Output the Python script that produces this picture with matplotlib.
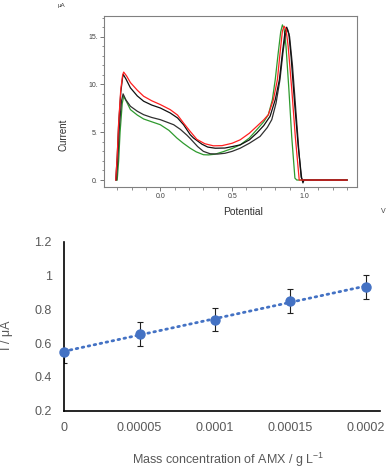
import numpy as np
import matplotlib
matplotlib.use("Agg")
import matplotlib.pyplot as plt
from matplotlib.ticker import MultipleLocator

plt.rcParams['font.family'] = ['Liberation Sans', 'DejaVu Sans']
plt.rcParams['mathtext.fontset'] = 'custom'
plt.rcParams['mathtext.rm'] = 'Liberation Sans'

# ---- voltammograms (potential / V, current / uA)
red_v = [-0.31, -0.30, -0.29, -0.275, -0.262, -0.255, -0.235, -0.208, -0.16, -0.116, -0.06, 0.0,
         0.069, 0.12, 0.162, 0.208, 0.255, 0.31, 0.37, 0.43, 0.50, 0.556, 0.62, 0.671, 0.72, 0.752,
         0.787, 0.815, 0.835, 0.85, 0.862, 0.875, 0.89, 0.915, 0.94, 0.967, 1.0, 1.3]
red_i = [0, 2.5, 6.0, 9.5, 11.0, 11.3, 10.9, 10.2, 9.4, 8.77, 8.3, 7.9,
         7.37, 6.8, 5.96, 5.09, 4.25, 3.8, 3.58, 3.6, 3.85, 4.21, 4.9, 5.61, 6.3, 6.84,
         8.4, 10.5, 13.5, 15.6, 16.1, 15.8, 14.0, 9.5, 4.5, 0, 0, 0]

blk1_v = [-0.31, -0.30, -0.29, -0.275, -0.262, -0.258, -0.24, -0.208, -0.16, -0.116, -0.06, 0.0,
          0.069, 0.12, 0.162, 0.208, 0.231, 0.29, 0.33, 0.382, 0.45, 0.50, 0.556, 0.62, 0.671,
          0.72, 0.764, 0.80, 0.829, 0.85, 0.868, 0.88, 0.895, 0.91, 0.935, 0.96, 0.984, 0.993, 1.0, 1.3]
blk1_i = [0, 2.4, 5.8, 9.2, 10.8, 11.05, 10.6, 9.65, 8.8, 8.25, 7.85, 7.54,
          7.02, 6.5, 5.79, 4.75, 4.4, 3.75, 3.45, 3.33, 3.35, 3.5, 3.68, 4.2, 4.91,
          5.7, 6.67, 8.4, 10.5, 13.3, 15.5, 16.0, 15.3, 13.0, 8.0, 3.5, 0.2, -0.3, 0, 0]

blk2_v = [-0.305, -0.295, -0.285, -0.27, -0.259, -0.24, -0.208, -0.16, -0.116, -0.06, 0.0, 0.093,
          0.14, 0.185, 0.208, 0.26, 0.30, 0.347, 0.40, 0.45, 0.50, 0.556, 0.62, 0.694, 0.745,
          0.776, 0.806, 0.833, 0.855, 0.872, 0.885, 0.90, 0.92, 0.945, 0.965, 0.98, 0.99, 1.3]
blk2_i = [0, 2.3, 5.5, 8.3, 9.02, 8.4, 7.72, 7.2, 6.84, 6.55, 6.32, 5.79,
          5.3, 4.7, 4.35, 3.5, 3.0, 2.75, 2.72, 2.8, 3.0, 3.33, 3.85, 4.56, 5.5,
          6.32, 8.07, 10.5, 13.5, 15.3, 15.8, 15.0, 12.0, 7.0, 3.0, 0.3, 0, 0]

grn_v = [-0.30, -0.29, -0.28, -0.265, -0.255, -0.235, -0.208, -0.16, -0.116, -0.06, 0.0, 0.06,
         0.116, 0.16, 0.208, 0.25, 0.30, 0.335, 0.38, 0.44, 0.50, 0.556, 0.62, 0.671, 0.72,
         0.752, 0.78, 0.80, 0.82, 0.838, 0.85, 0.862, 0.875, 0.895, 0.915, 0.937, 0.95, 1.3]
grn_i = [0, 2.0, 5.0, 8.0, 8.77, 8.2, 7.37, 6.8, 6.39, 6.1, 5.79, 5.2,
         4.39, 3.85, 3.33, 2.95, 2.65, 2.63, 2.7, 2.98, 3.3, 3.68, 4.4, 5.26, 6.1,
         6.84, 8.4, 10.5, 13.2, 15.5, 16.24, 15.8, 14.0, 9.5, 4.5, 0.2, 0, 0]

# ---- calibration
conc = [0, 0.00005, 0.0001, 0.00015, 0.0002]
current = [0.549, 0.654, 0.740, 0.851, 0.934]
err_low = [0.068, 0.069, 0.069, 0.069, 0.069]
err_high = [0.0, 0.069, 0.069, 0.069, 0.069]
xticks = [0, 0.00005, 0.0001, 0.00015, 0.0002]
xtick_labels = ['0', '0.00005', '0.0001', '0.00015', '0.0002']

fig = plt.figure(figsize=(3.87, 4.72), dpi=100)

# ---- top panel
ax1 = fig.add_axes([0.2687, 0.6038, 0.6537, 0.3623])
ax1.plot(grn_v, grn_i, color='#2e9a2e', lw=0.9)
ax1.plot(blk2_v, blk2_i, color='#303030', lw=0.9)
ax1.plot(blk1_v, blk1_i, color='#101010', lw=0.9)
ax1.plot(red_v, red_i, color='#ff2020', lw=0.9)
ax1.set_xlim(-0.392, 1.369)
ax1.set_ylim(-0.73, 17.17)
ax1.xaxis.set_minor_locator(MultipleLocator(0.1))
ax1.yaxis.set_minor_locator(MultipleLocator(1))
ax1.set_xticks([0.0, 0.5, 1.0])
ax1.set_xticklabels(['0.0', '0.5', '1.0'])
ax1.set_yticks([0, 5, 10, 15])
ax1.set_yticklabels(['0.', '5.', '10.', '15.'])
for s in ax1.spines.values():
    s.set_color('#808080'); s.set_linewidth(0.8)
ax1.tick_params(which='major', length=3, width=0.6, color='#606060',
                labelsize=5, labelcolor='#404040', pad=1.5)
ax1.tick_params(which='minor', length=1.8, width=0.5, color='#606060')
fig.text(0.163, 0.714, 'Current', rotation=90, ha='center', va='center', fontsize=7, color='#303030')
fig.text(0.628, 0.551, 'Potential', ha='center', va='center', fontsize=7.4, color='#303030')
fig.text(0.160, 0.989, 'μA', ha='center', va='center', fontsize=4.5, color='#404040')
fig.text(0.990, 0.551, 'V', ha='center', va='center', fontsize=5, color='#404040')

# ---- bottom panel
ax2 = fig.add_axes([0.166, 0.1299, 0.816, 0.3574])
slope, intercept = np.polyfit(conc, current, 1)
xs = np.array([conc[0], conc[-1]])
ax2.plot(xs, slope * xs + intercept, color='#4472c4', lw=2, linestyle=(0, (0.6, 1.6)),
         dash_capstyle='round')
ax2.errorbar(conc, current, yerr=[err_low, err_high], fmt='none', ecolor='#202020',
             elinewidth=0.8, capsize=2.3, capthick=0.8)
ax2.plot(conc, current, 'o', color='#4472c4', ms=6.5, zorder=5, clip_on=False)
ax2.set_xlim(0, 0.0002095)
ax2.set_ylim(0.2, 1.2)
ax2.set_xticks(xticks)
ax2.set_xticklabels(xtick_labels)
ax2.set_yticks([0.2, 0.4, 0.6, 0.8, 1.0, 1.2])
ax2.set_yticklabels(['0.2', '0.4', '0.6', '0.8', '1', '1.2'])
ax2.spines['top'].set_visible(False)
ax2.spines['right'].set_visible(False)
ax2.spines['left'].set_linewidth(1.2)
ax2.spines['bottom'].set_linewidth(1.2)
ax2.tick_params(axis='x', length=0, labelsize=9, labelcolor='#595959', pad=8)
ax2.tick_params(axis='y', length=0, labelsize=9, labelcolor='#595959', pad=9)
fig.text(0.018, 0.290, 'I / μA', rotation=90, ha='center', va='center', fontsize=9, color='#595959')
fig.text(0.589, 0.0254, 'Mass concentration of AMX / g L$^{-1}$', ha='center', va='center',
         fontsize=9, color='#595959')

fig.savefig('out.png', dpi=100)
